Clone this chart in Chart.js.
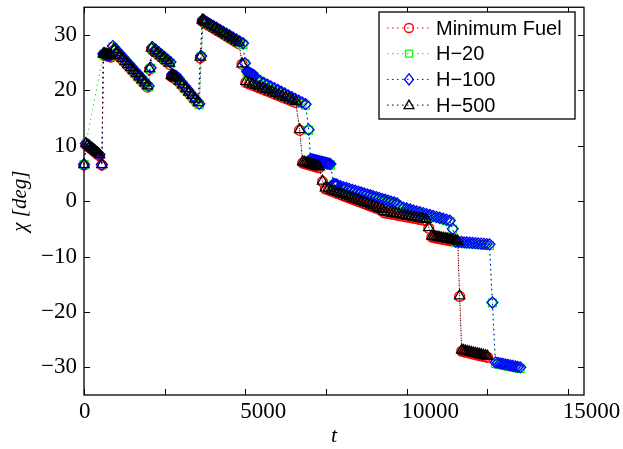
<!DOCTYPE html>
<html>
<head>
<meta charset="UTF-8">
<title>chi vs t</title>
<script src="https://cdn.jsdelivr.net/npm/chart.js"></script>
<style>
  html, body { margin: 0; padding: 0; background: #fff; }
</style>
</head>
<body>
<canvas id="myChart" width="623" height="449"></canvas>
<script>
// --- data ---
const seriesNames = ['Minimum Fuel', 'H\u221220', 'H\u2212100', 'H\u2212500'];
const xTickLabels = [0, 5000, 10000, 15000];
const xMinorTicks = [0, 2500, 5000, 7500, 10000, 12500, 15000];
const yTickVals = [-30, -20, -10, 0, 10, 20, 30];

// sample times shared by Minimum Fuel and H-500
const tEarly = [
  0, 60, 120, 180, 240, 300, 360, 420, 480,
  555,
  600, 630, 660, 690, 720, 750, 780, 810, 840,
  925, 1010, 1100, 1185, 1275, 1360, 1450, 1535, 1625, 1710, 1800, 1885, 1970,
  2035,
  2095, 2190, 2280, 2375, 2465, 2560, 2650,
  2710, 2740, 2770, 2805, 2835, 2865,
  2960, 3055, 3155, 3250, 3350, 3445, 3545,
  3605,
  3665, 3695, 3725,
  3760, 3855, 3950, 4045, 4140, 4235, 4330, 4425, 4520, 4615, 4710, 4805,
  4900,
  5020, 5125, 5225, 5330, 5430, 5535, 5635, 5740, 5845, 5945, 6050, 6150, 6255, 6360, 6460, 6565,
  6685,
  6780, 6830, 6880, 6935, 6985, 7035, 7085, 7135, 7185, 7240, 7290,
  7395,
  7485, 7580, 7670, 7765, 7855, 7950, 8040, 8135, 8225, 8320, 8410, 8505, 8595, 8690, 8780, 8875, 8965, 9060, 9150, 9245,
  9305, 9395, 9490, 9580, 9675, 9765, 9860, 9950, 10045, 10135, 10230, 10320, 10415, 10505, 10600,
  10690,
  10785, 10845, 10910, 10970, 11030, 11090, 11155, 11215, 11275, 11340, 11400, 11460, 11525, 11585,
  11645,
  11710, 11770, 11830, 11895, 11955, 12015, 12080, 12140, 12200, 12265, 12325, 12385, 12450, 12510
];

const fuelChi = [
  6.5, 10.2, 9.9, 9.6, 9.4, 9.1, 8.8, 8.5, 8.2,
  6.5,
  26.4, 26.4, 26.3, 26.3, 26.2, 26.2, 26.1, 26.1, 26.0,
  27.2, 26.65, 26.1, 25.55, 25.0, 24.45, 23.9, 23.35, 22.8, 22.25, 21.7, 21.15, 20.6,
  23.8,
  27.4, 26.95, 26.5, 26.05, 25.6, 25.15, 24.7,
  22.5, 22.4, 22.3, 22.2, 22.1, 22.0,
  21.4, 20.77, 20.13, 19.5, 18.87, 18.23, 17.6,
  25.9,
  32.5, 32.4, 32.3,
  32.1, 31.76, 31.43, 31.09, 30.75, 30.42, 30.08, 29.75, 29.41, 29.07, 28.74, 28.4,
  24.7,
  21.4, 21.16, 20.92, 20.68, 20.44, 20.2, 19.96, 19.72, 19.48, 19.24, 19.0, 18.76, 18.52, 18.28, 18.04, 17.8,
  12.8,
  6.9, 6.81, 6.72, 6.63, 6.54, 6.45, 6.36, 6.27, 6.18, 6.09, 6.0,
  3.5,
  2.2, 2.0, 1.79, 1.58, 1.38, 1.17, 0.97, 0.76, 0.56, 0.35, 0.15, -0.06, -0.26, -0.47, -0.67, -0.88, -1.08, -1.29, -1.49, -1.7,
  -2.1, -2.2, -2.3, -2.4, -2.5, -2.6, -2.7, -2.8, -2.9, -3.0, -3.1, -3.2, -3.3, -3.4, -3.5,
  -4.9,
  -6.5, -6.57, -6.64, -6.71, -6.78, -6.85, -6.92, -6.98, -7.05, -7.12, -7.19, -7.26, -7.33, -7.4,
  -17.2,
  -27.1, -27.18, -27.27, -27.35, -27.44, -27.52, -27.61, -27.69, -27.78, -27.86, -27.95, -28.03, -28.12, -28.2
];

const h500Chi = [
  6.6, 10.4, 10.1, 9.8, 9.6, 9.3, 9.0, 8.7, 8.4,
  6.6,
  26.6, 26.6, 26.5, 26.5, 26.4, 26.4, 26.3, 26.3, 26.2,
  27.4, 26.85, 26.3, 25.75, 25.2, 24.65, 24.1, 23.55, 23.0, 22.45, 21.9, 21.35, 20.8,
  23.9,
  27.6, 27.15, 26.7, 26.25, 25.8, 25.35, 24.9,
  22.7, 22.6, 22.5, 22.4, 22.3, 22.2,
  21.6, 20.97, 20.33, 19.7, 19.07, 18.43, 17.8,
  26.0,
  32.7, 32.6, 32.5,
  32.3, 31.96, 31.63, 31.29, 30.95, 30.62, 30.28, 29.95, 29.61, 29.27, 28.94, 28.6,
  24.8,
  21.6, 21.36, 21.12, 20.88, 20.64, 20.4, 20.16, 19.92, 19.68, 19.44, 19.2, 18.96, 18.72, 18.48, 18.24, 18.0,
  12.9,
  7.1, 7.01, 6.92, 6.83, 6.74, 6.65, 6.56, 6.47, 6.38, 6.29, 6.2,
  3.6,
  2.4, 2.2, 1.99, 1.78, 1.58, 1.37, 1.17, 0.96, 0.76, 0.55, 0.35, 0.14, -0.06, -0.27, -0.47, -0.68, -0.88, -1.09, -1.29, -1.5,
  -1.9, -2.0, -2.1, -2.2, -2.3, -2.4, -2.5, -2.6, -2.7, -2.8, -2.9, -3.0, -3.1, -3.2, -3.3,
  -4.8,
  -6.3, -6.37, -6.44, -6.51, -6.58, -6.65, -6.72, -6.78, -6.85, -6.92, -6.99, -7.06, -7.13, -7.2,
  -17.1,
  -26.9, -26.98, -27.07, -27.15, -27.24, -27.32, -27.41, -27.49, -27.58, -27.66, -27.75, -27.83, -27.92, -28.0
];

// sample times shared by H-20 and H-100
const tLate = [
  0, 60, 120, 180, 240, 300, 360, 420, 480,
  555,
  600, 630, 660, 690, 720, 750, 780, 810,
  895, 985, 1080, 1170, 1265, 1355, 1450, 1540, 1635, 1725, 1820, 1910, 2005,
  2065,
  2125, 2220, 2310, 2405, 2495, 2590, 2680,
  2740, 2770, 2800, 2835, 2865, 2895,
  2990, 3085, 3185, 3280, 3380, 3475, 3575,
  3635,
  3695, 3800, 3900, 4005, 4105, 4210, 4310, 4415, 4515, 4620, 4725, 4825, 4930,
  4990,
  5055, 5085, 5115, 5145, 5175, 5205, 5240, 5270,
  5360, 5470, 5575, 5685, 5790, 5900, 6010, 6115, 6225, 6330, 6440, 6545, 6655, 6760, 6870,
  6965,
  7025, 7065, 7105, 7150, 7190, 7230, 7270, 7310, 7355, 7395, 7435, 7475, 7520, 7560, 7600, 7640,
  7735, 7775, 7815, 7855,
  7950, 8040, 8135, 8225, 8320, 8410, 8505, 8595, 8690, 8780, 8875, 8965, 9060, 9150, 9245, 9335, 9430, 9520, 9615, 9705,
  9800, 9905, 10005, 10110, 10210, 10315, 10415, 10520, 10620, 10725, 10825, 10930, 11030, 11135, 11235, 11340,
  11430,
  11525, 11610, 11700, 11785, 11870, 11960, 12045, 12135, 12220, 12310, 12395, 12480, 12570,
  12660,
  12755, 12830, 12910, 12985, 13060, 13140, 13215, 13295, 13370, 13450, 13525
];

const h20Chi = [
  6.6, 10.4, null, null, null, null, null, null, null,
  null,
  26.5, 26.5, 26.4, 26.4, 26.3, 26.3, 26.2, 26.2,
  27.8, 27.2, 26.6, 26.0, 25.4, 24.8, 24.2, 23.6, 23.0, 22.4, 21.8, 21.2, 20.6,
  24.0,
  27.6, 27.15, 26.7, 26.25, 25.8, 25.35, 24.9,
  22.7, 22.6, 22.5, 22.4, 22.3, 22.2,
  21.5, 20.82, 20.13, 19.45, 18.77, 18.08, 17.4,
  26.1,
  32.5, 32.15, 31.8, 31.45, 31.1, 30.75, 30.4, 30.05, 29.7, 29.35, 29.0, 28.65, 28.3,
  24.8,
  23.2, 23.1, 23.0, 22.9, 22.8, 22.7, 22.6, 22.5,
  21.8, 21.48, 21.16, 20.84, 20.51, 20.19, 19.87, 19.55, 19.23, 18.91, 18.59, 18.26, 17.94, 17.62, 17.3,
  12.8,
  7.4, 7.34, 7.28, 7.22, 7.16, 7.1, 7.04, 6.98, 6.92, 6.86, 6.8, 6.74, 6.68, 6.62, 6.56, 6.5,
  2.9, 2.85, 2.8, 2.75,
  2.5, 2.34, 2.17, 2.01, 1.85, 1.68, 1.52, 1.36, 1.19, 1.03, 0.87, 0.71, 0.54, 0.38, 0.22, 0.05, -0.11, -0.27, -0.44, -0.6,
  -1.2, -1.37, -1.53, -1.7, -1.87, -2.03, -2.2, -2.37, -2.53, -2.7, -2.87, -3.03, -3.2, -3.37, -3.53, -3.7,
  -5.1,
  -7.5, -7.54, -7.58, -7.63, -7.67, -7.71, -7.75, -7.79, -7.83, -7.88, -7.92, -7.96, -8.0,
  -18.4,
  -29.3, -29.39, -29.48, -29.57, -29.66, -29.75, -29.84, -29.93, -30.02, -30.11, -30.2
];

const h100Chi = [
  6.6, 10.4, 10.1, 9.8, 9.6, 9.3, 9.0, 8.7, 8.4,
  6.6,
  26.6, 26.6, 26.5, 26.5, 26.4, 26.4, 26.3, 26.3,
  28.0, 27.4, 26.8, 26.2, 25.6, 25.0, 24.4, 23.8, 23.2, 22.6, 22.0, 21.4, 20.8,
  24.1,
  27.8, 27.35, 26.9, 26.45, 26.0, 25.55, 25.1,
  22.9, 22.8, 22.7, 22.6, 22.5, 22.4,
  21.7, 21.02, 20.33, 19.65, 18.97, 18.28, 17.6,
  26.2,
  32.7, 32.35, 32.0, 31.65, 31.3, 30.95, 30.6, 30.25, 29.9, 29.55, 29.2, 28.85, 28.5,
  24.9,
  23.4, 23.3, 23.2, 23.1, 23.0, 22.9, 22.8, 22.7,
  22.0, 21.68, 21.36, 21.04, 20.71, 20.39, 20.07, 19.75, 19.43, 19.11, 18.79, 18.46, 18.14, 17.82, 17.5,
  12.9,
  7.6, 7.54, 7.48, 7.42, 7.36, 7.3, 7.24, 7.18, 7.12, 7.06, 7.0, 6.94, 6.88, 6.82, 6.76, 6.7,
  3.1, 3.05, 3.0, 2.95,
  2.7, 2.54, 2.37, 2.21, 2.05, 1.88, 1.72, 1.56, 1.39, 1.23, 1.07, 0.91, 0.74, 0.58, 0.42, 0.25, 0.09, -0.07, -0.24, -0.4,
  -1.0, -1.17, -1.33, -1.5, -1.67, -1.83, -2.0, -2.17, -2.33, -2.5, -2.67, -2.83, -3.0, -3.17, -3.33, -3.5,
  -5.0,
  -7.3, -7.34, -7.38, -7.43, -7.47, -7.51, -7.55, -7.59, -7.63, -7.68, -7.72, -7.76, -7.8,
  -18.3,
  -29.1, -29.19, -29.28, -29.37, -29.46, -29.55, -29.64, -29.73, -29.82, -29.91, -30.0
];

function toPoints(ts, ys) {
  return ts.map((t, i) => ({ x: t, y: ys[i] }));
}

const serif = '"Liberation Serif", "Times New Roman", serif';
const sans = '"Liberation Sans", Arial, sans-serif';

function makeSet(label, pts, color, style, radius, order) {
  return {
    label: label,
    data: pts,
    borderColor: color,
    backgroundColor: 'rgba(0,0,0,0)',
    borderWidth: 1,
    borderDash: [1.5, 3.5],
    pointStyle: style,
    pointRadius: radius,
    pointBorderColor: color,
    pointBackgroundColor: 'rgba(0,0,0,0)',
    pointBorderWidth: 1.25,
    spanGaps: true,
    clip: false,
    order: order
  };
}

// draws a marker the same shape as the series markers, for the legend box
function drawMarker(ctx, style, x, y, color) {
  ctx.strokeStyle = color;
  ctx.lineWidth = 1.3;
  ctx.beginPath();
  if (style === 'circle') {
    ctx.arc(x, y, 4.5, 0, Math.PI * 2);
  } else if (style === 'rect') {
    ctx.rect(x - 3.5, y - 3.5, 7, 7);
  } else if (style === 'rectRot') {
    ctx.moveTo(x, y - 5.5); ctx.lineTo(x + 4.5, y); ctx.lineTo(x, y + 5.5); ctx.lineTo(x - 4.5, y); ctx.closePath();
  } else {
    ctx.moveTo(x, y - 5); ctx.lineTo(x + 5, y + 3.5); ctx.lineTo(x - 5, y + 3.5); ctx.closePath();
  }
  ctx.stroke();
}

// axes box and inward tick marks
const boxPlugin = {
  id: 'axesBox',
  beforeDatasetsDraw(chart) {
    const { ctx, chartArea: a, scales } = chart;
    ctx.save();
    ctx.strokeStyle = '#000';
    ctx.lineWidth = 1.3;
    ctx.strokeRect(a.left, a.top, a.right - a.left, a.bottom - a.top);
    ctx.lineWidth = 1;
    ctx.beginPath();
    xMinorTicks.forEach(v => {
      const px = Math.round(scales.x.getPixelForValue(v)) + 0.5;
      ctx.moveTo(px, a.bottom); ctx.lineTo(px, a.bottom - 6);
      ctx.moveTo(px, a.top); ctx.lineTo(px, a.top + 6);
    });
    yTickVals.forEach(v => {
      const py = Math.round(scales.y.getPixelForValue(v)) + 0.5;
      ctx.moveTo(a.left, py); ctx.lineTo(a.left + 6, py);
      ctx.moveTo(a.right, py); ctx.lineTo(a.right - 6, py);
    });
    ctx.stroke();
    ctx.restore();
  }
};

// legend box in the top right corner, like the MATLAB one
const legendPlugin = {
  id: 'boxLegend',
  afterDraw(chart) {
    const ctx = chart.ctx;
    const L = 379, T = 12, R = 575, B = 119;
    ctx.save();
    ctx.fillStyle = '#fff';
    ctx.fillRect(L, T, R - L, B - T);
    ctx.strokeStyle = '#000';
    ctx.lineWidth = 1.3;
    ctx.strokeRect(L, T, R - L, B - T);
    const sets = chart.data.datasets;
    sets.forEach((ds, i) => {
      const yy = 28 + i * 25.7;
      ctx.strokeStyle = ds.borderColor;
      ctx.lineWidth = 1;
      ctx.setLineDash([1.5, 3.5]);
      ctx.beginPath();
      ctx.moveTo(387, yy); ctx.lineTo(430, yy);
      ctx.stroke();
      ctx.setLineDash([]);
      drawMarker(ctx, ds.pointStyle, 409, yy, ds.borderColor);
      ctx.fillStyle = '#000';
      ctx.font = '20px ' + sans;
      ctx.textBaseline = 'middle';
      ctx.fillText(ds.label, 436, yy + 1);
    });
    ctx.restore();
  }
};

document.addEventListener('DOMContentLoaded', () => {
  const ctx = document.getElementById('myChart').getContext('2d');
  new Chart(ctx, {
    type: 'line',
    data: {
      datasets: [
        makeSet(seriesNames[0], toPoints(tEarly, fuelChi), '#ff0000', 'circle', 5, 4),
        makeSet(seriesNames[1], toPoints(tLate, h20Chi), '#00ff00', 'rect', 5.5, 3),
        makeSet(seriesNames[2], toPoints(tLate, h100Chi), '#0000ff', 'rectRot', 5.5, 2),
        makeSet(seriesNames[3], toPoints(tEarly, h500Chi), '#000000', 'triangle', 6, 1)
      ]
    },
    options: {
      responsive: false,
      animation: false,
      devicePixelRatio: 1,
      layout: { padding: { left: 0, right: 39, top: 5, bottom: 0 } },
      plugins: {
        legend: { display: false },
        tooltip: { enabled: false }
      },
      scales: {
        x: {
          type: 'linear',
          min: 0,
          max: 15500,
          grid: { display: false, drawTicks: false },
          border: { display: false },
          ticks: {
            font: { family: serif, size: 23 },
            color: '#000',
            padding: 3,
            align: 'start',
            labelOffset: -5,
            maxRotation: 0,
            autoSkip: false,
            callback: v => String(v)
          },
          afterBuildTicks: s => { s.ticks = xTickLabels.map(v => ({ value: v })); },
          afterFit: s => { s.height = 54; s.paddingLeft = 0; s.paddingRight = 0; },
          title: {
            display: true,
            text: 't',
            color: '#000',
            font: { family: serif, size: 22, style: 'italic' },
            padding: { top: 0, bottom: 0 }
          }
        },
        y: {
          min: -35,
          max: 35,
          grid: { display: false, drawTicks: false },
          border: { display: false },
          ticks: {
            font: { family: serif, size: 23 },
            color: '#000',
            padding: 7,
            callback: v => (v < 0 ? '\u2212' + Math.abs(v) : String(v))
          },
          afterBuildTicks: s => { s.ticks = yTickVals.map(v => ({ value: v })); },
          afterFit: s => { s.width = 84; s.paddingTop = 0; s.paddingBottom = 0; },
          title: {
            display: true,
            text: '\u03c7 [deg]',
            color: '#000',
            font: { family: serif, size: 21, style: 'italic' },
            padding: { top: 8, bottom: 0 }
          }
        }
      }
    },
    plugins: [boxPlugin, legendPlugin]
  });
});
</script>
</body>
</html>
